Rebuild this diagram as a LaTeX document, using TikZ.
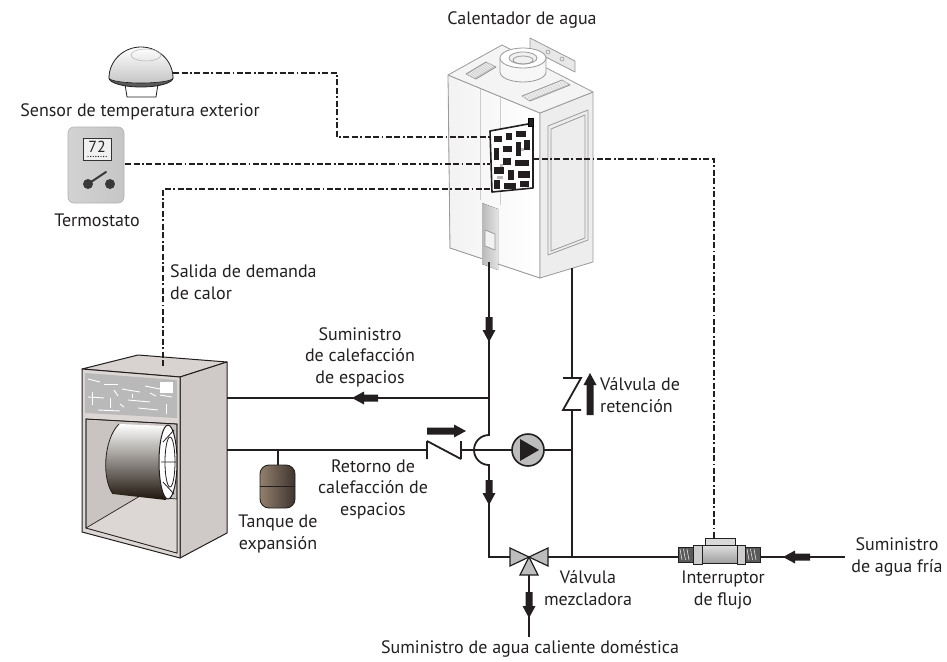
\documentclass[tikz,border=0pt]{standalone}
\usepackage{fontspec}
\setmainfont{PT Sans}
\usetikzlibrary{calc}

\definecolor{ink}{HTML}{231F20}
\definecolor{valvegray}{HTML}{BDBDBD}
\definecolor{ahframe}{HTML}{DCD7D5}
\definecolor{ahside}{HTML}{CFC9C7}
\definecolor{ahtop}{HTML}{D8D3D1}
\definecolor{ahinner}{HTML}{C9C3C1}
\definecolor{heaterline}{HTML}{9A9A9A}
\definecolor{tankdark}{HTML}{3E3430}

\tikzset{
  pipe/.style={draw=ink, line width=1.8pt},
  signal/.style={draw=ink, line width=1.8pt,
    dash pattern=on 6pt off 2.5pt on 6pt off 2.5pt on 1.8pt off 2.5pt},
  lbl/.style={text=ink, font=\fontsize{18}{21.5}\selectfont, align=center, inner sep=0pt},
  valvepart/.style={fill=valvegray, draw=ink, line width=1.2pt, line join=miter},
  checkvalve/.style={draw=ink, line width=1.8pt, line join=miter},
  heaterface/.style={draw=heaterline, line width=0.8pt, line join=round},
  pics/flow/.style={code={
    \fill[ink] (-#1,-3.5) -- (-12,-3.5) -- (-12,-6.5) -- (0,0) -- (-12,6.5) -- (-12,3.5) -- (-#1,3.5) -- cycle;}},
}

\begin{document}
\begin{tikzpicture}[x=1pt, y=-1pt]
\useasboundingbox (0,0) rectangle (947,661);

% ---------- water heater ----------
\filldraw[heaterface, left color=gray!10, right color=white] (448,75) -- (540,113) -- (540,278) -- (450,248) -- cycle;
\filldraw[heaterface, fill=gray!14] (540,113) -- (593,92) -- (593,262) -- (540,278) -- cycle;
\filldraw[heaterface, fill=gray!9] (448,75) -- (502,45) -- (593,92) -- (540,113) -- cycle;
% mounting bracket
\filldraw[heaterface, fill=gray!18] (530,38) -- (575,61) -- (575,72) -- (530,49) -- cycle;
\foreach \p in {(548,52),(562,59)} \draw[heaterline, line width=0.6pt] \p circle[radius=2pt];
% grilles
\filldraw[heaterface, fill=gray!45] (466,74) -- (486,62) -- (496,67) -- (476,79) -- cycle;
\filldraw[heaterface, fill=gray!45] (522,96) -- (562,80) -- (570,85) -- (530,101) -- cycle;
\foreach \t in {0.15,0.3,...,0.9} {
  \draw[white, line width=0.5pt] ($(466,74)!\t!(476,79)$) -- ($(486,62)!\t!(496,67)$);
  \draw[white, line width=0.5pt] ($(522,96)!\t!(530,101)$) -- ($(562,80)!\t!(570,85)$);
}
% flue collar
\filldraw[heaterface, fill=gray!6] (500,58) -- (500,72) arc[start angle=180, end angle=360, x radius=23pt, y radius=10pt] -- (546,58) -- cycle;
\filldraw[heaterface, fill=white] (523,58) ellipse[x radius=23pt, y radius=10pt];
\filldraw[heaterface, fill=gray!12] (523,58) ellipse[x radius=14pt, y radius=6pt];
\draw[heaterface] (523,60) ellipse[x radius=10pt, y radius=4pt];
% side panel
\draw[heaterface] (548,126) -- (588,110) -- (588,240) -- (548,255) -- cycle;
\draw[heaterface] (551,129) -- (585,115) -- (585,238) -- (551,251) -- cycle;
% front detail lines and display window
\draw[heaterface, draw=gray!40] (480,89) -- (480,200);
\draw[heaterface, draw=gray!40] (500,97) -- (500,205);
\fill[left color=gray!55, right color=gray!22] (482,203) -- (498,209) -- (498,270) -- (482,264) -- cycle;
\filldraw[heaterface, fill=gray!10] (485,230) -- (495,234) -- (495,250) -- (485,246) -- cycle;

\node[lbl] (heaterlbl) at (522,20) {Calentador de agua};

% ---------- outdoor sensor ----------
\coordinate (sensorOut) at (173,73);
\filldraw[fill=white, draw=ink, line width=0.8pt] (125,84) -- (127,97) -- (156,97) -- (158,84) -- cycle;
\filldraw[fill=gray!70!black, draw=ink, line width=0.8pt] (109,78) arc[start angle=180, end angle=360, x radius=32pt, y radius=9pt] -- cycle;
\shade[top color=white, bottom color=gray!45] (109,78) arc[start angle=180, end angle=0, x radius=32pt, y radius=31pt] -- (173,78) arc[start angle=0, end angle=-180, x radius=32pt, y radius=5pt] -- cycle;
\draw[ink, line width=0.8pt] (109,78) arc[start angle=180, end angle=0, x radius=32pt, y radius=31pt];
\draw[ink, line width=0.6pt] (109,78) arc[start angle=180, end angle=360, x radius=32pt, y radius=5pt];
\draw[gray!60, line width=0.5pt] (146,55) ellipse[x radius=15pt, y radius=6pt];
\node[lbl] (sensorlbl) at (140,112) {Sensor de temperatura exterior};

% ---------- thermostat ----------
\coordinate (thermoOut) at (125,164);
\shade[rounded corners=6pt, left color=gray!35, middle color=gray!8, right color=gray!45] (68,127) rectangle (124,203);
\draw[gray!60, rounded corners=6pt, line width=0.6pt] (68,127) rectangle (124,203);
\filldraw[fill=gray!12, draw=gray!40!black, line width=0.9pt] (83,138) rectangle (111,160);
\node[text=gray!30!black, font=\fontsize{16}{16}\selectfont, inner sep=0pt] (display) at (97,147) {72};
\foreach \i in {0,...,7} \fill[gray!30!black] ({88+2.6*\i},156.5) circle[radius=0.7pt];
\fill[gray!45!black] (88,184) circle[radius=5pt];
\fill[gray!45!black] (110,184) circle[radius=5pt];
\draw[gray!45!black, line width=2pt, line cap=round] (88,184) -- (106,172);
\node[lbl] (thermolbl) at (97,220) {Termostato};

% ---------- air handler ----------
\coordinate (ahTop) at (163,366);
\filldraw[draw=ink, line width=1pt, fill=ahtop, line join=round] (82,369) -- (138,355) -- (227,362) -- (180,377) -- cycle;
\filldraw[draw=ink, line width=1pt, fill=ahside, line join=round] (180,377) -- (227,362) -- (227,533) -- (180,558) -- cycle;
\filldraw[draw=ink, line width=1pt, fill=ahframe, line join=round] (82,369) -- (180,377) -- (180,558) -- (82,532) -- cycle;
% control board
\fill[gray!55] (85,373) -- (177,380) -- (177,418) -- (85,413) -- cycle;
\foreach \xa/\ya/\xb/\yb in {88/379/100/382, 104/384/118/384, 92/392/92/405, 122/389/140/392, 145/386/160/389,
  110/398/110/408, 128/400/150/402, 160/395/172/397, 98/410/120/411, 138/408/158/410, 166/404/166/414,
  88/397/104/398, 114/390/118/396, 132/394/132/398, 150/393/156/396, 120/404/124/407} {
  \draw[white, line width=0.9pt] (\xa,\ya) -- (\xb,\yb);
}
\filldraw[fill=white, draw=white] (160,382) rectangle (172,392);
% blower compartment
\filldraw[fill=ahinner, draw=ink, line width=0.8pt] (86,419) -- (177,424) -- (177,553) -- (86,528) -- cycle;
\fill[ahframe] (86,528) -- (140,496) -- (177,499) -- (177,553) -- cycle;
\draw[ink, line width=0.7pt] (86,528) -- (140,496) -- (177,499);
\draw[ink, line width=0.7pt] (86,419) -- (177,424) -- (177,553) -- (86,528) -- cycle;
% blower drum
\shade[top color=white, bottom color=black!85!brown] (119,424) .. controls (103,440) and (102,480) .. (113,494) -- (166,500) -- (167,426) -- cycle;
\draw[ink, line width=0.8pt] (119,424) .. controls (103,440) and (102,480) .. (113,494);
\filldraw[fill=white, draw=ink, line width=1pt] (168,462) ellipse[x radius=9pt, y radius=37pt];
\draw[ink, line width=0.8pt] (170,462) ellipse[x radius=5pt, y radius=25pt];
\draw[ink, line width=0.8pt] (163,442) -- (174,430) (161,462) -- (176,462) (163,482) -- (174,494);

% ---------- expansion tank ----------
\coordinate (tankTop) at (278,465);
\shade[rounded corners=9pt, left color=gray!70!brown, middle color=white, right color=tankdark] (260,465) rectangle (295,508);
\draw[ink, rounded corners=9pt, line width=0.9pt] (260,465) rectangle (295,508);
\draw[ink, line width=0.9pt] (260,486) -- (295,486);
\node[lbl] (tanklbl) at (278,534) {Tanque de\\expansión};

% ---------- pipework ----------
\coordinate (hOut) at (489,262);
\coordinate (hIn) at (572,268);
\coordinate (supTee) at (489,398);
\coordinate (ahSup) at (227,398);
\coordinate (ahRet) at (227,450);
\coordinate (cvTop) at (572,378);
\coordinate (cvBot) at (572,410);
\coordinate (retTee) at (572,450);
\coordinate (botTee) at (572,557);
\coordinate (coldIn) at (845,557);
\coordinate (dhwOut) at (529,637);

% heater outlet down through the crossover to the mixing valve
\draw[pipe, line join=miter] (hOut) -- (489,435) arc[start angle=90, end angle=270, radius=15pt] -- (489,557) -- (510,557);
\draw[pipe] (supTee) -- (ahSup);
% space heating return with check valve and pump
\draw[pipe] (ahRet) -- (427,450);
\draw[checkvalve] (427,441) -- (427,459) (427,441) -- (461,459) (461,441) -- (461,459);
\draw[pipe] (461,450) -- (retTee);
\draw[pipe] (tankTop) -- (278,450);
% heater inlet with check valve
\draw[pipe] (hIn) -- (cvTop);
\draw[checkvalve] (563,378) -- (581,378) -- (563,410) -- (581,410);
\draw[pipe] (cvBot) -- (botTee);
% cold water line and domestic hot water outlet
\draw[pipe] (548,557) -- (coldIn);
\draw[pipe] (529,575) -- (dhwOut);

% pump
\node[circle, draw=ink, line width=1.6pt, fill=valvegray, minimum size=32pt, inner sep=0pt] (pump) at (528,450) {};
\fill[ink] (520,439) -- (539,450) -- (520,461) -- cycle;

% mixing valve
\coordinate (mix) at (529,557);
\filldraw[valvepart] (510,548) -- (mix) -- (510,566) -- cycle;
\filldraw[valvepart] (548,548) -- (mix) -- (548,566) -- cycle;
\filldraw[valvepart] (520,575) -- (mix) -- (538,575) -- cycle;

% flow switch
\coordinate (fsTop) at (714,538);
\filldraw[fill=gray!70!black, draw=ink, line width=0.6pt] (678,547) rectangle (693,562);
\filldraw[fill=gray!70!black, draw=ink, line width=0.6pt] (745,547) rectangle (760,562);
\foreach \xx in {680,683.5,...,690} {
  \draw[gray!20, line width=0.6pt] (\xx,549) -- (\xx+2,560);
  \draw[gray!20, line width=0.6pt] (\xx+67,549) -- (\xx+69,560);
}
\shade[left color=gray!40, middle color=white, right color=gray!40] (693,545) rectangle (702,564);
\draw[ink, line width=0.6pt] (693,545) rectangle (702,564);
\shade[left color=gray!40, middle color=white, right color=gray!40] (737,545) rectangle (745,564);
\draw[ink, line width=0.6pt] (737,545) rectangle (745,564);
\shade[top color=gray!25, bottom color=gray!75] (702,545) rectangle (737,563);
\draw[ink, line width=0.6pt] (702,545) rectangle (737,563);
\filldraw[fill=gray!30, draw=ink, line width=0.6pt] (705,538) rectangle (735,545);

% flow direction arrows
\pic[rotate=-90] at (489,342) {flow=25};
\pic[rotate=-90] at (489,505) {flow=25};
\pic[rotate=180] at (352,398) {flow=26};
\pic at (466,431) {flow=39};
\pic[rotate=90] at (590,373) {flow=42};
\pic[rotate=-90] at (529,618) {flow=26};
\pic[rotate=180] at (783,557) {flow=27};

% ---------- control wiring ----------
\coordinate (boardA) at (490,137);
\coordinate (boardB) at (490,164);
\coordinate (boardC) at (490,189);
\coordinate (boardD) at (533,159);
\draw[signal] (sensorOut) -- (337,73) -- (337,137) -- (boardA);
\draw[signal] (thermoOut) -- (boardB);
\draw[signal] (ahTop) -- (163,189) -- (boardC);
\draw[signal] (boardD) -- (714,159) -- (fsTop);

% control board in the heater
\filldraw[fill=white, draw=ink, line width=1.6pt, line join=round] (490,131) -- (528,124) -- (533,126) -- (533,188) -- (492,192) -- cycle;
\filldraw[fill=ink] (528,118) rectangle (533,126);
\foreach \xa/\ya/\xb/\yb in {494/136/502/142, 506/133/512/140, 516/131/526/137, 494/148/499/160, 503/146/512/152,
  516/142/521/156, 524/140/530/150, 503/158/511/165, 515/160/529/166, 494/167/504/174, 508/170/514/180,
  518/171/530/178, 494/180/500/189, 504/183/516/189, 520/181/529/187} {
  \fill[ink] (\xa,\ya) rectangle (\xb,\yb);
}
\foreach \xa/\ya/\xb/\yb in {500/164/503/167, 521/148/524/151, 497/176/503/179} {
  \fill[gray!55] (\xa,\ya) rectangle (\xb,\yb);
}

% ---------- labels ----------
\node[lbl, align=left, anchor=west] (demandlbl) at (170,282) {Salida de demanda\\de calor};
\node[lbl] (supplylbl) at (360,357) {Suministro\\de calefacción\\de espacios};
\node[lbl] (returnlbl) at (373,489) {Retorno de\\calefacción de\\espacios};
\node[lbl, align=left, anchor=west] (checklbl) at (600,395) {Válvula de\\retención};
\node[lbl] (mixlbl) at (588,588) {Válvula\\mezcladora};
\node[lbl] (fslbl) at (723,590) {Interruptor\\de flujo};
\node[lbl] (coldlbl) at (897,557) {Suministro\\de agua fría};
\node[lbl] (dhwlbl) at (530,649) {Suministro de agua caliente doméstica};

\end{tikzpicture}
\end{document}
